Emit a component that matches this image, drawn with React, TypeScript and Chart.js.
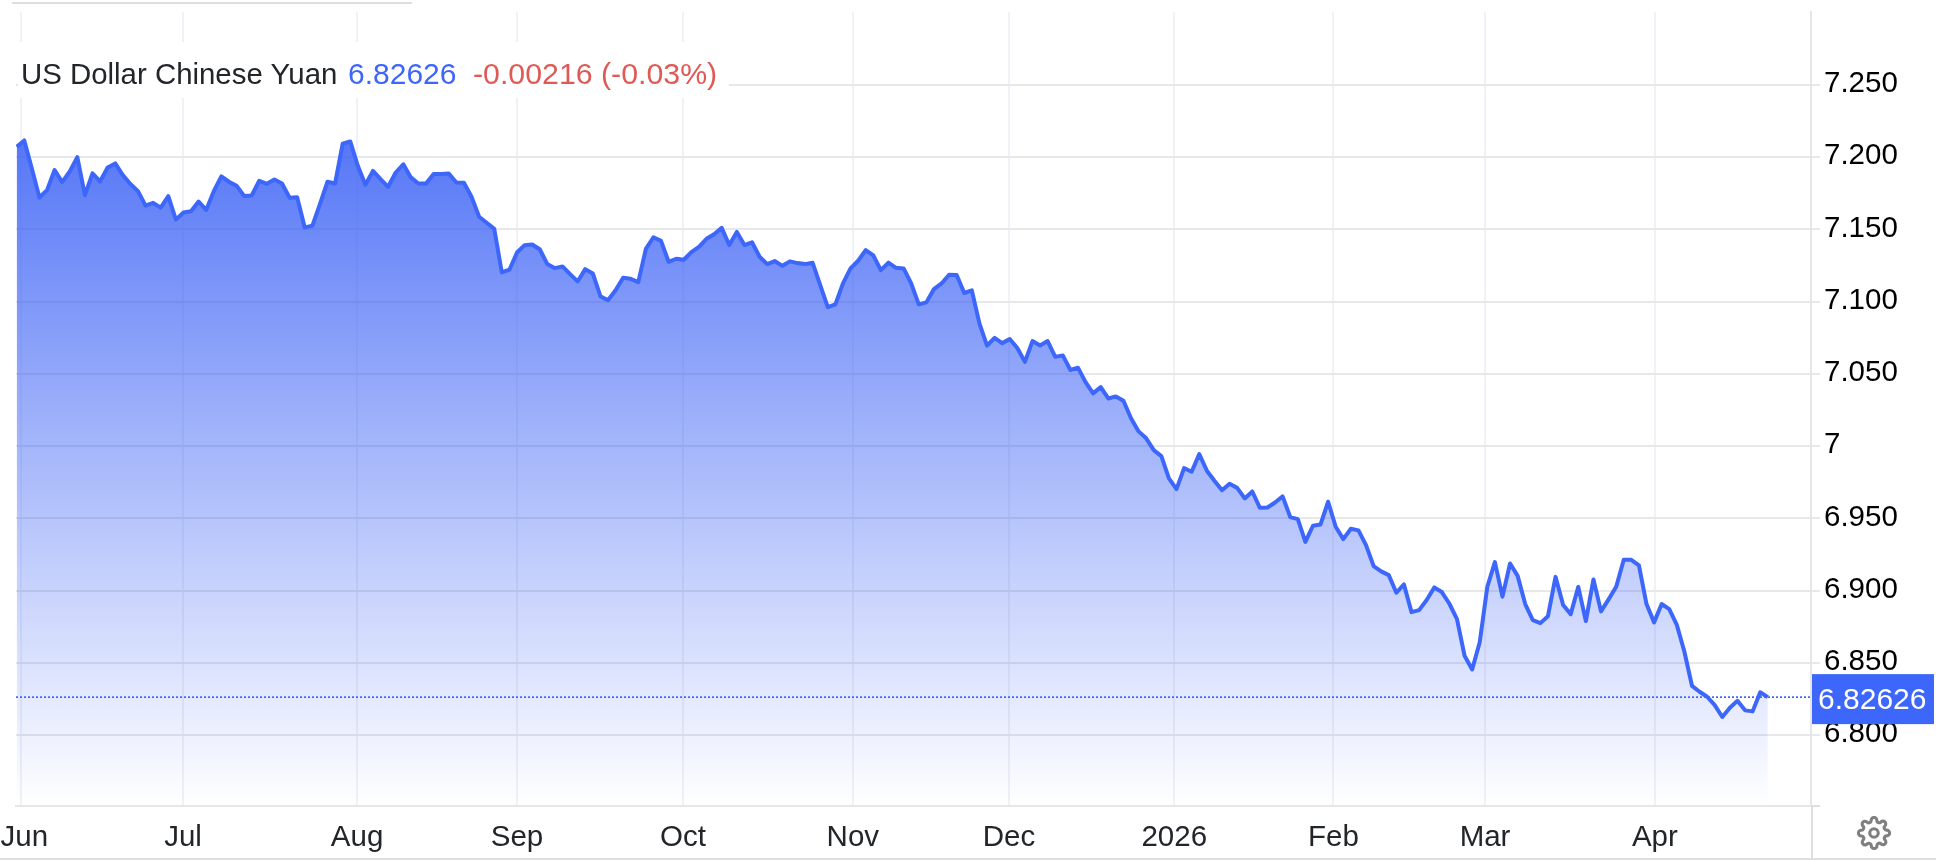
import React, { useEffect, useRef } from "react";
import { Chart, registerables } from "chart.js";

Chart.register(...registerables);

const rates: number[] = [
  7.2072, 7.2116, 7.1922, 7.1721, 7.1772, 7.1911, 7.1827, 7.1901, 7.2, 7.1737,
  7.1888, 7.1832, 7.1929, 7.1957, 7.1876, 7.1814, 7.1765, 7.1665, 7.1684, 7.1651,
  7.173, 7.1568, 7.1617, 7.1626, 7.1693, 7.1635, 7.1765, 7.1867, 7.183, 7.1802,
  7.1732, 7.1735, 7.1837, 7.1816, 7.1846, 7.1818, 7.1719, 7.1723, 7.1514, 7.1525,
  7.1675, 7.183, 7.1818, 7.2093, 7.2109, 7.194, 7.1809, 7.1905, 7.1848, 7.1795,
  7.1894, 7.1951, 7.186, 7.1818, 7.1818, 7.1884, 7.1884, 7.1887, 7.1825, 7.1823,
  7.1726, 7.1588, 7.1546, 7.1504, 7.1202, 7.1221, 7.134, 7.1391, 7.1396, 7.1363,
  7.126, 7.1232, 7.1244, 7.1191, 7.114, 7.1225, 7.1195, 7.1038, 7.101, 7.1079,
  7.1165, 7.1158, 7.1135, 7.1365, 7.1446, 7.1421, 7.1276, 7.1297, 7.129, 7.1343,
  7.138, 7.1435, 7.1467, 7.1511, 7.1392, 7.1483, 7.1392, 7.1411, 7.1311, 7.126,
  7.1281, 7.1248, 7.1279, 7.1267, 7.126, 7.1269, 7.1114, 7.0962, 7.0981, 7.1126,
  7.123, 7.1283, 7.1357, 7.132, 7.1218, 7.127, 7.1234, 7.123, 7.1126, 7.0981,
  7.0995, 7.1087, 7.1126, 7.1186, 7.1184, 7.106, 7.1078, 7.085, 7.0695, 7.075,
  7.0713, 7.0741, 7.0679, 7.0583, 7.0727, 7.0697, 7.0727, 7.0618, 7.0628, 7.0527,
  7.0543, 7.0443, 7.0365, 7.0409, 7.033, 7.0344, 7.0314, 7.0193, 7.0102, 7.0054,
  6.9972, 6.9931, 6.9777, 6.9702, 6.9848, 6.9823, 6.9945, 6.983, 6.976, 6.9695,
  6.9739, 6.9711, 6.9638, 6.9686, 6.9573, 6.9575, 6.961, 6.9652, 6.9509, 6.9495,
  6.9337, 6.9449, 6.9458, 6.9615, 6.9442, 6.9356, 6.9428, 6.9417, 6.9315, 6.917,
  6.9133, 6.9107, 6.8985, 6.9043, 6.8851, 6.8865, 6.8935, 6.9022, 6.899, 6.8909,
  6.8803, 6.8549, 6.8454, 6.8642, 6.9026, 6.9197, 6.8958, 6.9188, 6.9102, 6.8907,
  6.8796, 6.8775, 6.8823, 6.9095, 6.89, 6.8837, 6.9026, 6.8789, 6.9077, 6.8856,
  6.8939, 6.9026, 6.9213, 6.9213, 6.9175, 6.8907, 6.878, 6.8907, 6.8872, 6.8763,
  6.8577, 6.8341, 6.83, 6.8265, 6.8207, 6.8125, 6.8189, 6.8237, 6.8171, 6.8164,
  6.8296, 6.82626,
];

const monthLabels = ["Jun", "Jul", "Aug", "Sep", "Oct", "Nov", "Dec", "2026", "Feb", "Mar", "Apr"];
const monthStarts = [0.57, 21.94, 44.9, 66.0, 87.9, 110.3, 130.9, 152.7, 173.7, 193.7, 216.1];
const monthLabelAnchors = [1.0, 21.94, 44.9, 66.0, 87.9, 110.3, 130.9, 152.7, 173.7, 193.7, 216.1];
const yTicks = [6.8, 6.85, 6.9, 6.95, 7.0, 7.05, 7.1, 7.15, 7.2, 7.25];
const yTickLabels = ["6.800", "6.850", "6.900", "6.950", "7", "7.050", "7.100", "7.150", "7.200", "7.250"];
const lastValue = 6.82626;
const lastValueText = "6.82626";
const titleName = "US Dollar Chinese Yuan";
const changeText = "-0.00216 (-0.03%)";

const BLUE = "#3d66fb";
const FONT = "'Liberation Sans', Arial, sans-serif";
const X_MIN = -0.09;
const X_MAX = 236.7;

const GEAR =
  "M19.4 15a1.65 1.65 0 0 0 .33 1.82l.06.06a2 2 0 0 1 0 2.83 2 2 0 0 1-2.83 0l-.06-.06a1.65 1.65 0 0 0-1.82-.33 1.65 1.65 0 0 0-1 1.51V21a2 2 0 0 1-2 2 2 2 0 0 1-2-2v-.09A1.65 1.65 0 0 0 9 19.4a1.65 1.65 0 0 0-1.82.33l-.06.06a2 2 0 0 1-2.83 0 2 2 0 0 1 0-2.83l.06-.06a1.65 1.65 0 0 0 .33-1.82 1.65 1.65 0 0 0-1.51-1H3a2 2 0 0 1-2-2 2 2 0 0 1 2-2h.09A1.65 1.65 0 0 0 4.6 9a1.65 1.65 0 0 0-.33-1.82l-.06-.06a2 2 0 0 1 0-2.83 2 2 0 0 1 2.83 0l.06.06a1.65 1.65 0 0 0 1.82.33H9a1.65 1.65 0 0 0 1-1.51V3a2 2 0 0 1 2-2 2 2 0 0 1 2 2v.09a1.65 1.65 0 0 0 1 1.51 1.65 1.65 0 0 0 1.82-.33l.06-.06a2 2 0 0 1 2.83 0 2 2 0 0 1 0 2.83l-.06.06a1.65 1.65 0 0 0-.33 1.82V9a1.65 1.65 0 0 0 1.51 1H21a2 2 0 0 1 2 2 2 2 0 0 1-2 2h-.09a1.65 1.65 0 0 0-1.51 1z";

const noPad = (s: any) => {
  s.paddingLeft = 0;
  s.paddingRight = 0;
  s.paddingTop = 0;
  s.paddingBottom = 0;
};

const lastPricePlugin = {
  id: "lastPrice",
  afterDatasetsDraw(chart: any) {
    const { ctx, chartArea, scales } = chart;
    const y = scales.y.getPixelForValue(lastValue);
    ctx.save();
    ctx.strokeStyle = BLUE;
    ctx.lineWidth = 1.7;
    ctx.setLineDash([2, 2]);
    ctx.beginPath();
    ctx.moveTo(chartArea.left, y);
    ctx.lineTo(chartArea.right, y);
    ctx.stroke();
    ctx.restore();
  },
  afterDraw(chart: any) {
    const { ctx, chartArea, scales } = chart;
    const y = scales.y.getPixelForValue(lastValue);
    const left = chartArea.right + 1;
    ctx.save();
    ctx.fillStyle = BLUE;
    ctx.fillRect(left, y - 23, 122, 50);
    ctx.fillStyle = "#ffffff";
    ctx.font = `30px ${FONT}`;
    ctx.textBaseline = "middle";
    ctx.textAlign = "left";
    ctx.fillText(lastValueText, left + 6, y + 4);
    ctx.restore();
  },
};

export default function App() {
  const ref = useRef<HTMLCanvasElement | null>(null);

  useEffect(() => {
    if (!ref.current) return;
    const chart = new Chart(ref.current, {
      type: "line",
      plugins: [lastPricePlugin],
      data: {
        datasets: [
          {
            label: titleName,
            data: rates.map((v, i) => ({ x: i, y: v })),
            xAxisID: "xGrid",
            yAxisID: "y",
            borderColor: BLUE,
            borderWidth: 4,
            borderJoinStyle: "round",
            pointRadius: 0,
            tension: 0,
            fill: "start",
            backgroundColor: (c: any) => {
              const { chart: ch } = c;
              if (!ch.chartArea) return "rgba(60,98,245,0.5)";
              const g = ch.ctx.createLinearGradient(0, 130, 0, ch.chartArea.bottom);
              g.addColorStop(0, "rgba(60,98,245,0.88)");
              g.addColorStop(1, "rgba(60,98,245,0)");
              return g;
            },
          },
        ],
      },
      options: {
        responsive: false,
        animation: false,
        layout: { padding: { left: 16, top: 12, right: 0, bottom: 0 } },
        plugins: { legend: { display: false }, tooltip: { enabled: false }, title: { display: false } },
        scales: {
          xGrid: {
            type: "linear",
            position: "bottom",
            min: X_MIN,
            max: X_MAX,
            afterBuildTicks: (s: any) => {
              s.ticks = monthStarts.map((value) => ({ value }));
            },
            afterFit: (s: any) => {
              s.height = 0;
              noPad(s);
            },
            ticks: { display: false, autoSkip: false },
            border: { display: false },
            grid: { color: "#eff2f6", lineWidth: 2, drawTicks: false },
          },
          x: {
            type: "linear",
            position: "bottom",
            min: X_MIN,
            max: X_MAX,
            afterBuildTicks: (s: any) => {
              s.ticks = monthLabelAnchors.map((value) => ({ value }));
            },
            afterFit: (s: any) => {
              s.height = 54;
              noPad(s);
            },
            ticks: {
              autoSkip: false,
              maxRotation: 0,
              padding: 6,
              color: "#222529",
              font: { family: FONT, size: 29.5 },
              callback: (_v: any, i: number) => monthLabels[i],
            },
            border: { display: true, color: "#e6e6e6", width: 2 },
            grid: { display: false },
          },
          y: {
            type: "linear",
            position: "right",
            min: 6.7509,
            max: 7.3005,
            afterBuildTicks: (s: any) => {
              s.ticks = yTicks.map((value) => ({ value }));
            },
            afterFit: (s: any) => {
              s.width = 125;
              noPad(s);
            },
            ticks: {
              autoSkip: false,
              padding: 4,
              labelOffset: -1,
              color: "#000000",
              font: { family: FONT, size: 29.5 },
              callback: (_v: any, i: number) => yTickLabels[i],
            },
            border: { display: true, color: "#e6e6e6", width: 2 },
            grid: { color: "#e8e8e8", lineWidth: 2, tickLength: 9 },
          },
        },
      },
    } as any);
    return () => chart.destroy();
  }, []);

  const line = (style: React.CSSProperties) => (
    <div style={{ position: "absolute", background: "#dedede", ...style }} />
  );

  return (
    <div style={{ position: "absolute", left: 0, top: 0, width: 1936, height: 860, overflow: "hidden", background: "#fff" }}>
      <canvas ref={ref} width={1936} height={860} style={{ position: "absolute", left: 0, top: 0, width: 1936, height: 860 }} />
      {line({ left: 12, top: 2, width: 400, height: 2 })}
      {line({ left: 0, top: 858, width: 1936, height: 2 })}
      {line({ left: 1811, top: 806, width: 2, height: 52 })}
      {line({ left: 1811, top: 805, width: 9, height: 2 })}
      <div
        style={{
          position: "absolute",
          left: 18,
          top: 42,
          width: 711,
          height: 56,
          background: "#fff",
          font: `30px ${FONT}`,
          lineHeight: "56px",
          whiteSpace: "nowrap",
          color: "#222529",
        }}
      >
        <span style={{ position: "absolute", left: 3, top: 4, fontSize: 29.4 }}>{titleName}</span>
        <span style={{ position: "absolute", left: 330, top: 4, color: BLUE }}>{lastValueText}</span>
        <span style={{ position: "absolute", left: 455, top: 4, fontSize: 30.3, color: "#e05a55" }}>{changeText}</span>
      </div>
      <svg
        width="34"
        height="34"
        viewBox="0 0 24 24"
        fill="none"
        stroke="#808080"
        strokeWidth="2.2"
        style={{ position: "absolute", left: 1857, top: 816 }}
      >
        <circle cx="12" cy="12" r="3" />
        <path d={GEAR} />
      </svg>
    </div>
  );
}
